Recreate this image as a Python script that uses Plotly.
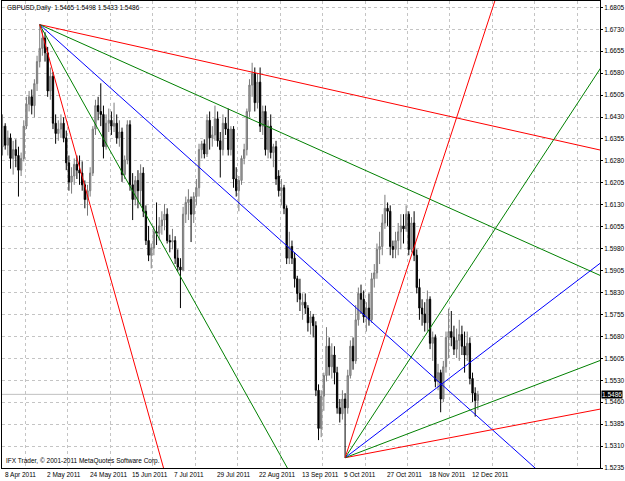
import plotly.graph_objects as go

# ---------------- data ----------------
opens = [1.6330,1.6400,1.6335,1.6360,1.6290,1.6320,1.6300,1.6250,1.6290,1.6400,
         1.6475,1.6500,1.6470,1.6545,1.6620,1.6665,1.6700,1.6650,1.6520,1.6570,
         1.6410,1.6375,1.6390,1.6410,1.6360,1.6275,1.6210,1.6230,1.6270,1.6250,
         1.6240,1.6200,1.6150,1.6180,1.6240,1.6390,1.6470,1.6450,1.6440,1.6330,
         1.6410,1.6420,1.6400,1.6410,1.6360,1.6380,1.6235,1.6285,1.6405,1.6200,
         1.6150,1.6215,1.6180,1.6240,1.6110,1.6010,1.5960,1.5985,1.6040,1.6035,
         1.6060,1.6080,1.6100,1.6010,1.6005,1.6010,1.5950,1.5920,1.5910,1.6100,
         1.6140,1.6150,1.6100,1.6160,1.6190,1.6320,1.6340,1.6305,1.6420,1.6360,
         1.6370,1.6425,1.6350,1.6320,1.6410,1.6390,1.6320,1.6390,1.6220,1.6180,
         1.6215,1.6290,1.6320,1.6450,1.6540,1.6580,1.6480,1.6550,1.6400,1.6450,
         1.6320,1.6400,1.6310,1.6330,1.6230,1.6180,1.6190,1.6120,1.5950,1.5990,
         1.5950,1.5880,1.5830,1.5790,1.5800,1.5780,1.5730,1.5750,1.5720,1.5500,
         1.5370,1.5480,1.5550,1.5650,1.5580,1.5620,1.5560,1.5440,1.5420,1.5470,
         1.5440,1.5550,1.5650,1.5600,1.5740,1.5830,1.5810,1.5750,1.5780,1.5740,
         1.5880,1.5900,1.5980,1.5990,1.6070,1.6120,1.6110,1.5990,1.5980,1.6010,
         1.6040,1.6060,1.6050,1.6100,1.5980,1.6070,1.5960,1.5850,1.5780,1.5760,
         1.5730,1.5810,1.5660,1.5680,1.5530,1.5560,1.5470,1.5580,1.5680,1.5700,
         1.5680,1.5640,1.5670,1.5690,1.5650,1.5620,1.5660,1.5540,1.5490,1.5465]
highs = [1.6440,1.6410,1.6385,1.6375,1.6350,1.6355,1.6330,1.6310,1.6420,1.6500,
         1.6520,1.6525,1.6560,1.6640,1.6746,1.6730,1.6720,1.6670,1.6600,1.6585,
         1.6440,1.6420,1.6440,1.6430,1.6385,1.6300,1.6260,1.6290,1.6300,1.6300,
         1.6280,1.6215,1.6200,1.6260,1.6400,1.6490,1.6500,1.6546,1.6470,1.6440,
         1.6460,1.6450,1.6480,1.6440,1.6420,1.6395,1.6300,1.6420,1.6420,1.6240,
         1.6230,1.6250,1.6270,1.6260,1.6130,1.6060,1.6000,1.6060,1.6140,1.6090,
         1.6110,1.6135,1.6120,1.6030,1.6050,1.6025,1.5980,1.5950,1.6125,1.6160,
         1.6185,1.6160,1.6175,1.6220,1.6340,1.6350,1.6355,1.6440,1.6450,1.6400,
         1.6470,1.6450,1.6380,1.6440,1.6430,1.6460,1.6400,1.6400,1.6260,1.6230,
         1.6300,1.6340,1.6460,1.6560,1.6616,1.6600,1.6580,1.6600,1.6470,1.6470,
         1.6420,1.6440,1.6340,1.6350,1.6250,1.6220,1.6200,1.6130,1.6040,1.6010,
         1.5970,1.5890,1.5880,1.5830,1.5830,1.5790,1.5770,1.5760,1.5735,1.5520,
         1.5500,1.5560,1.5715,1.5680,1.5660,1.5650,1.5580,1.5470,1.5500,1.5490,
         1.5570,1.5670,1.5680,1.5790,1.5850,1.5860,1.5840,1.5800,1.5830,1.5900,
         1.5930,1.6000,1.6040,1.6100,1.6166,1.6140,1.6130,1.6010,1.6040,1.6070,
         1.6100,1.6100,1.6130,1.6110,1.6090,1.6110,1.5980,1.5880,1.5810,1.5800,
         1.5840,1.5820,1.5700,1.5690,1.5590,1.5570,1.5600,1.5700,1.5778,1.5770,
         1.5720,1.5710,1.5740,1.5720,1.5700,1.5700,1.5680,1.5560,1.5510,1.5498]
lows = [1.6300,1.6320,1.6300,1.6255,1.6235,1.6260,1.6160,1.6230,1.6280,1.6390,
        1.6450,1.6440,1.6430,1.6520,1.6600,1.6640,1.6620,1.6500,1.6490,1.6390,
        1.6340,1.6350,1.6360,1.6345,1.6250,1.6180,1.6170,1.6200,1.6220,1.6200,
        1.6180,1.6120,1.6095,1.6160,1.6230,1.6370,1.6420,1.6400,1.6290,1.6320,
        1.6380,1.6370,1.6380,1.6340,1.6330,1.6210,1.6220,1.6270,1.6180,1.6080,
        1.6130,1.6120,1.6130,1.6090,1.5995,1.5940,1.5915,1.5960,1.5995,1.6010,
        1.6030,1.6045,1.6000,1.5970,1.5980,1.5930,1.5905,1.5780,1.5905,1.6070,
        1.6080,1.6005,1.6070,1.6130,1.6160,1.6290,1.6290,1.6295,1.6320,1.6330,
        1.6350,1.6330,1.6225,1.6300,1.6370,1.6300,1.6300,1.6190,1.6160,1.6110,
        1.6200,1.6270,1.6300,1.6430,1.6500,1.6450,1.6460,1.6380,1.6370,1.6300,
        1.6290,1.6290,1.6260,1.6200,1.6160,1.6130,1.6100,1.5930,1.5930,1.5930,
        1.5850,1.5800,1.5770,1.5740,1.5760,1.5700,1.5690,1.5680,1.5480,1.5330,
        1.5340,1.5430,1.5530,1.5550,1.5540,1.5520,1.5420,1.5390,1.5400,1.5270,
        1.5420,1.5540,1.5570,1.5590,1.5720,1.5760,1.5730,1.5700,1.5720,1.5730,
        1.5850,1.5880,1.5930,1.5960,1.6050,1.6060,1.5960,1.5950,1.5950,1.5960,
        1.5980,1.6000,1.6040,1.5960,1.5970,1.5940,1.5830,1.5740,1.5720,1.5700,
        1.5700,1.5640,1.5600,1.5510,1.5500,1.5425,1.5460,1.5560,1.5610,1.5650,
        1.5620,1.5610,1.5600,1.5620,1.5560,1.5600,1.5520,1.5460,1.5410,1.5433]
closes = [1.6400,1.6335,1.6360,1.6290,1.6320,1.6300,1.6250,1.6290,1.6400,1.6475,
          1.6500,1.6470,1.6545,1.6620,1.6665,1.6700,1.6650,1.6520,1.6570,1.6410,
          1.6375,1.6390,1.6410,1.6360,1.6275,1.6210,1.6230,1.6270,1.6250,1.6240,
          1.6200,1.6150,1.6180,1.6240,1.6390,1.6470,1.6450,1.6440,1.6330,1.6410,
          1.6420,1.6400,1.6410,1.6360,1.6380,1.6235,1.6285,1.6405,1.6200,1.6150,
          1.6215,1.6180,1.6240,1.6110,1.6010,1.5960,1.5985,1.6040,1.6035,1.6060,
          1.6080,1.6100,1.6010,1.6005,1.6010,1.5950,1.5920,1.5910,1.6100,1.6140,
          1.6150,1.6100,1.6160,1.6190,1.6320,1.6340,1.6305,1.6420,1.6360,1.6370,
          1.6425,1.6350,1.6320,1.6410,1.6390,1.6320,1.6390,1.6220,1.6180,1.6215,
          1.6290,1.6320,1.6450,1.6540,1.6580,1.6480,1.6550,1.6400,1.6450,1.6320,
          1.6400,1.6310,1.6330,1.6220,1.6180,1.6190,1.6120,1.5950,1.5990,1.5950,
          1.5880,1.5830,1.5810,1.5800,1.5780,1.5730,1.5750,1.5720,1.5500,1.5370,
          1.5480,1.5550,1.5650,1.5580,1.5620,1.5560,1.5440,1.5420,1.5470,1.5440,
          1.5550,1.5650,1.5600,1.5740,1.5830,1.5810,1.5750,1.5780,1.5740,1.5880,
          1.5900,1.5980,1.5990,1.6070,1.6120,1.6110,1.5990,1.5980,1.6010,1.6040,
          1.6060,1.6050,1.6100,1.5980,1.6070,1.5960,1.5850,1.5780,1.5760,1.5730,
          1.5810,1.5660,1.5680,1.5530,1.5560,1.5470,1.5580,1.5680,1.5700,1.5680,
          1.5640,1.5670,1.5690,1.5650,1.5620,1.5660,1.5540,1.5490,1.5465,1.5486]

symbol_title = "GBPUSD,Daily"
copyright_text = "IFX Trader, \u00a9 2001-2011 MetaQuotes Software Corp."
date_labels = ["8 Apr 2011", "2 May 2011", "24 May 2011", "15 Jun 2011", "7 Jul 2011",
               "29 Jul 2011", "22 Aug 2011", "13 Sep 2011", "5 Oct 2011", "27 Oct 2011",
               "18 Nov 2011", "12 Dec 2011"]
date_label_bars = [0, 16, 32, 48, 64, 80, 96, 112, 128, 144, 160, 176]
price_tick_labels = ["1.6805", "1.6730", "1.6655", "1.6580", "1.6505", "1.6430", "1.6355",
                     "1.6280", "1.6205", "1.6130", "1.6055", "1.5980", "1.5905", "1.5830",
                     "1.5755", "1.5680", "1.5605", "1.5530", "1.5460", "1.5385", "1.5310",
                     "1.5235"]

# Gann fans: origin bar, anchor (high/low) and 1x1 step in price per bar
fan_origin_bars = [14, 129]
fan_anchor = ["high", "low"]
fan_unit_step = [-0.00081, 0.00069]
gann_ratios = [0.25, 0.5, 1.0, 2.0, 4.0]
gann_colors = ["#ff0000", "#008000", "#0000ff", "#008000", "#ff0000"]

# ---------------- figure ----------------
FONT = "Liberation Sans, Arial, sans-serif"
FS = 6.5
bars = list(range(len(closes)))
x_lo, x_hi = -0.2, 225.0
top_price, bottom_price = 1.6805, 1.5235
y_lo, y_hi = 1.5235, 1.68265

fig = go.Figure()

# Gann fans
for fb, anc, step in zip(fan_origin_bars, fan_anchor, fan_unit_step):
    p0 = highs[fb] if anc == "high" else lows[fb]
    for r, c in zip(gann_ratios, gann_colors):
        x_end = 240
        fig.add_trace(go.Scatter(
            x=[fb, x_end], y=[p0, p0 + step * r * (x_end - fb)],
            mode="lines", line=dict(color=c, width=1), hoverinfo="skip",
            showlegend=False))

fig.add_trace(go.Candlestick(
    x=bars, open=opens, high=highs, low=lows, close=closes,
    increasing=dict(line=dict(color="#7a7a7a", width=1), fillcolor="#a6a6a6"),
    decreasing=dict(line=dict(color="#000000", width=1), fillcolor="#000000"),
    whiskerwidth=0, showlegend=False, hoverinfo="skip"))

# bid line
fig.add_shape(type="line", xref="paper", x0=0, x1=1, yref="y",
              y0=closes[-1], y1=closes[-1], line=dict(color="#c0c0c0", width=1),
              layer="below")

n_ticks = len(price_tick_labels)
tickvals = [top_price - (top_price - bottom_price) * k / (n_ticks - 1) for k in range(n_ticks)]

grid_bars = [8.5 + 16 * k for k in range(15)]

fig.update_layout(
    width=625, height=481,
    margin=dict(l=2, r=25, t=1, b=13, pad=0),
    paper_bgcolor="white", plot_bgcolor="white",
    font=dict(family=FONT, size=FS, color="black"),
    showlegend=False,
    xaxis=dict(range=[x_lo, x_hi], rangeslider=dict(visible=False),
               tickvals=grid_bars, showticklabels=False, ticks="",
               showgrid=True, gridcolor="#c4c4c4", griddash="dot", gridwidth=1,
               showline=True, linecolor="black", linewidth=1, mirror=True,
               zeroline=False, automargin=False, fixedrange=True),
    yaxis=dict(range=[y_lo, y_hi], side="right", tickvals=tickvals,
               ticktext=price_tick_labels, ticks="outside", ticklen=2,
               tickcolor="black", tickfont=dict(family=FONT, size=FS, color="black"),
               showgrid=True, gridcolor="#c4c4c4", griddash="dot", gridwidth=1,
               showline=True, linecolor="black", linewidth=1, mirror=True,
               zeroline=False, automargin=False, fixedrange=True),
)

ann = []
for b, t in zip(date_label_bars, date_labels):
    ann.append(dict(x=b, xref="x", y=0, yref="paper", text=t, showarrow=False,
                    xanchor="left", yanchor="top", yshift=-1,
                    font=dict(family=FONT, size=FS, color="black")))
ann.append(dict(x=1, xref="paper", y=closes[-1], yref="y", text=f"{closes[-1]:.4f}",
                showarrow=False, xanchor="left", yanchor="middle", xshift=1,
                bgcolor="black", borderpad=0,
                font=dict(family=FONT, size=FS, color="white")))
ann.append(dict(x=0, xref="paper", y=1, yref="paper",
                text=f"{symbol_title}  {opens[-1]:.4f} {highs[-1]:.4f} {lows[-1]:.4f} {closes[-1]:.4f}",
                showarrow=False, xanchor="left", yanchor="top", xshift=3, yshift=-1,
                font=dict(family=FONT, size=FS, color="black")))
ann.append(dict(x=0, xref="paper", y=0, yref="paper", text=copyright_text,
                showarrow=False, xanchor="left", yanchor="bottom", xshift=2, yshift=1,
                font=dict(family=FONT, size=FS, color="black")))
fig.update_layout(annotations=ann)

fig.write_html("out.html")
